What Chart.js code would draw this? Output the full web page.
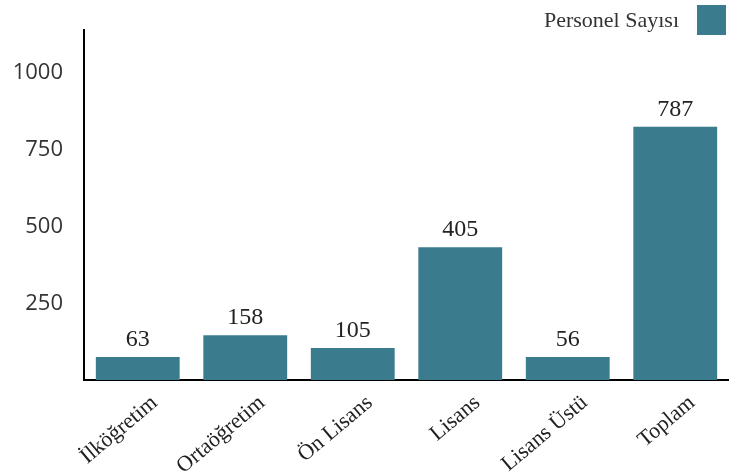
<!DOCTYPE html>
<html>
<head>
<meta charset="utf-8">
<script src="https://cdn.jsdelivr.net/npm/chart.js@4"></script>
<style>
  html, body { margin: 0; padding: 0; background: #fff; }
  #wrap { width: 729px; height: 476px; position: relative; }
</style>
</head>
<body>
<div id="wrap"><canvas id="c"></canvas></div>
<script>
// Categories (x axis)
const categories = ["İlköğretim", "Ortaöğretim", "Ön Lisans", "Lisans", "Lisans Üstü", "Toplam"];
// Numbers printed above the bars
const displayedValues = [63, 158, 105, 405, 56, 787];
// Bar heights
const barValues = [75, 146, 104, 432, 75, 825];
// Y tick labels shown
const yTicks = [250, 500, 750, 1000];
const seriesName = "Personel Sayısı";

const barColor = "#3a7c8e";
const serif = "'Liberation Serif', 'DejaVu Serif', serif";
const sans = "'Open Sans', 'DejaVu Sans', sans-serif";

const valueLabels = {
  id: 'valueLabels',
  afterDatasetsDraw(chart) {
    const ctx = chart.ctx;
    const meta = chart.getDatasetMeta(0);
    ctx.save();
    ctx.font = "24px " + serif;
    ctx.fillStyle = "#222";
    ctx.textAlign = "center";
    ctx.textBaseline = "alphabetic";
    meta.data.forEach((bar, i) => {
      ctx.fillText(String(displayedValues[i]), bar.x, bar.y - 11);
    });
    ctx.restore();
  }
};

const customLegend = {
  id: 'customLegend',
  afterDraw(chart) {
    const ctx = chart.ctx;
    const ds = chart.data.datasets[0];
    const w = chart.width;
    ctx.save();
    ctx.fillStyle = ds.backgroundColor;
    ctx.fillRect(w - 32, 5, 29, 30);
    ctx.font = "22px " + serif;
    ctx.fillStyle = "#333";
    ctx.textAlign = "right";
    ctx.textBaseline = "middle";
    ctx.fillText(ds.label, w - 50, 21);
    ctx.restore();
  }
};

new Chart(document.getElementById('c'), {
  type: 'bar',
  data: {
    labels: categories,
    datasets: [{
      label: seriesName,
      data: barValues,
      backgroundColor: barColor,
      borderWidth: 0,
      barPercentage: 0.78,
      categoryPercentage: 1.0
    }]
  },
  options: {
    responsive: true,
    maintainAspectRatio: false,
    animation: false,
    layout: { padding: { top: 30, left: 12, right: 0, bottom: 0 } },
    plugins: {
      legend: { display: false },
      tooltip: { enabled: false }
    },
    scales: {
      x: {
        grid: { display: false },
        border: { display: true, color: '#000', width: 2 },
        afterFit(scale) {
          scale.paddingLeft = 0;
          scale.paddingRight = 0;
          scale.height = 96;
        },
        ticks: {
          color: '#222',
          font: { family: serif, size: 22 },
          minRotation: 40,
          maxRotation: 40,
          padding: 2,
          labelOffset: 17,
          autoSkip: false
        }
      },
      y: {
        min: 0,
        max: 1140,
        grid: { display: false, drawTicks: false },
        border: { display: true, color: '#000', width: 2 },
        afterBuildTicks(scale) {
          scale.ticks = yTicks.map(v => ({ value: v }));
        },
        afterFit(scale) {
          scale.width = 72;
          scale.paddingTop = 0;
          scale.paddingBottom = 0;
        },
        ticks: {
          color: '#333',
          font: { family: sans, size: 22 },
          padding: 21,
          callback: (v) => String(v)
        }
      }
    }
  },
  plugins: [valueLabels, customLegend]
});
</script>
</body>
</html>
